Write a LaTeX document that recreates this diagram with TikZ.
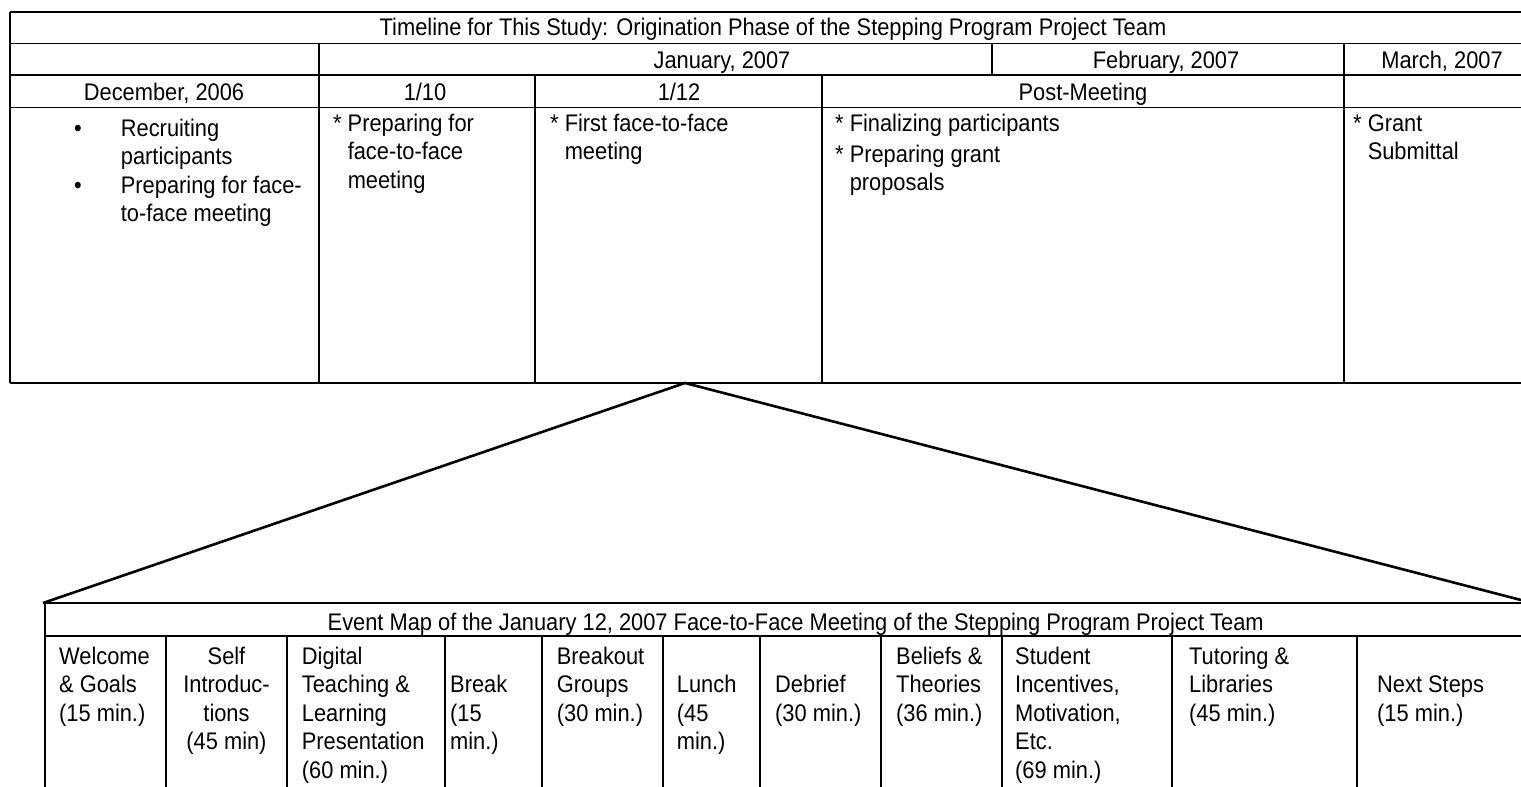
\documentclass[tikz,border=0pt]{standalone}
\usepackage{fontspec}
\setmainfont[FakeStretch=0.91]{Liberation Sans}
\begin{document}
\begin{tikzpicture}[x=1pt,y=-1pt,
  grid/.style={line width=1.6pt},
  zoomline/.style={line width=2.6pt},
  txt/.style={inner sep=0pt, font=\fontsize{24}{28.6}\selectfont, align=left},
  ctxt/.style={inner sep=0pt, font=\fontsize{24}{28.6}\selectfont, align=center, anchor=base},
  ltxt/.style={txt, anchor=base west}]
\useasboundingbox (0,0) rectangle (1521,787);
% ---------- top table ----------
\draw[grid] (10,11.7) -- (1521,11.7);
\draw[grid] (10,43.3) -- (1521,43.3);
\draw[grid] (10,75) -- (1521,75);
\draw[grid] (10,107.3) -- (1521,107.3);
\draw[grid] (10,383) -- (1521,383);
\draw[grid] (10,11.7) -- (10,383);
\draw[grid] (319,43.3) -- (319,383);
\draw[grid] (535,75) -- (535,383);
\draw[grid] (822,75) -- (822,383);
\draw[grid] (992,43.3) -- (992,75);
\draw[grid] (1344,43.3) -- (1344,383);
\node[ctxt] (title) at (773,35) {Timeline for This Study: Origination Phase of the Stepping Program Project Team};
\node[ctxt] (jan) at (722,68.3) {January, 2007};
\node[ctxt] (feb) at (1166,68.3) {February, 2007};
\node[ctxt] (mar) at (1442,68.3) {March, 2007};
\node[ctxt] (dec) at (164,100) {December, 2006};
\node[ctxt] (d110) at (425,100) {1/10};
\node[ctxt] (d112) at (679,100) {1/12};
\node[ctxt] (post) at (1083,100) {Post-Meeting};
\node[ctxt] (b1) at (78,136) {•};
\node[ctxt] (b2) at (78,193.2) {•};
% multi-line nodes: base anchor = baseline of the last line
\node[ltxt] (c1) at (120.7,221.8) {Recruiting\\participants\\Preparing for face-\\to-face meeting};
\node[ltxt] (c2) at (333,188.2) {* Preparing for\\\hphantom{* }face-to-face\\\hphantom{* }meeting};
\node[ltxt] (c3) at (550,159.6) {* First face-to-face\\\hphantom{* }meeting};
\node[ltxt] (c4) at (835,190.7) {* Finalizing participants\\[2.5pt]* Preparing grant\\\hphantom{* }proposals};
\node[ltxt] (c5) at (1353,159.6) {* Grant\\\hphantom{* }Submittal};
% ---------- zoom lines ----------
\coordinate (apex) at (685,383);
\coordinate (bl) at (43,603);
\coordinate (br) at (1521,600);
\draw[zoomline] (bl) -- (apex) -- (br);
% ---------- bottom table ----------
\draw[grid] (45,603) -- (1521,603);
\draw[grid] (45,636) -- (1521,636);
\draw[grid] (45,603) -- (45,787);
\foreach \x in {166,287,445,542,663,760,881,1002,1172,1357}
  \draw[grid] (\x,636) -- (\x,787);
\node[ctxt] (etitle) at (795.7,630.7) {Event Map of the January 12, 2007 Face-to-Face Meeting of the Stepping Program Project Team};
\node[ltxt] (e1) at (59,721.2) {Welcome\\\& Goals\\(15 min.)};
\node[ctxt] (e2) at (226.5,749.8) {Self\\Introduc-\\tions\\(45 min)};
\node[ltxt] (e3) at (301.7,778.4) {Digital\\Teaching \&\\Learning\\Presentation\\(60 min.)};
\node[ltxt] (e4) at (450,749.8) {Break\\(15\\min.)};
\node[ltxt] (e5) at (556.7,721.2) {Breakout\\Groups\\(30 min.)};
\node[ltxt] (e6) at (676.7,749.8) {Lunch\\(45\\min.)};
\node[ltxt] (e7) at (775,721.2) {Debrief\\(30 min.)};
\node[ltxt] (e8) at (896,721.2) {Beliefs \&\\Theories\\(36 min.)};
\node[ltxt] (e9) at (1015,778.4) {Student\\Incentives,\\Motivation,\\Etc.\\(69 min.)};
\node[ltxt] (e10) at (1189,721.2) {Tutoring \&\\Libraries\\(45 min.)};
\node[ltxt] (e11) at (1377,721.2) {Next Steps\\(15 min.)};
\end{tikzpicture}
\end{document}
